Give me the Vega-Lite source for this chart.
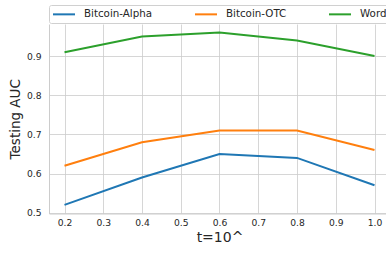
{
  "$schema": "https://vega.github.io/schema/vega-lite/v6.json",
  "width": 341,
  "height": 189.5,
  "autosize": "none",
  "padding": {"left": 49, "top": 24, "right": 0, "bottom": 40},
  "background": "white",
  "config": {
    "font": "DejaVu Sans",
    "view": {"stroke": null},
    "axis": {
      "grid": true,
      "gridColor": "#cccccc",
      "gridWidth": 0.8,
      "domainColor": "#cccccc",
      "domainWidth": 1,
      "ticks": false,
      "labelFont": "DejaVu Sans",
      "labelFontSize": 9.2,
      "labelColor": "#262626",
      "titleFont": "DejaVu Sans",
      "titleFontSize": 14,
      "titleFontWeight": "normal",
      "titleColor": "#262626"
    }
  },
  "data": {
    "values": [
      {"t": 0.2, "auc": 0.52, "series": "Bitcoin-Alpha"},
      {"t": 0.4, "auc": 0.59, "series": "Bitcoin-Alpha"},
      {"t": 0.6, "auc": 0.65, "series": "Bitcoin-Alpha"},
      {"t": 0.8, "auc": 0.64, "series": "Bitcoin-Alpha"},
      {"t": 1.0, "auc": 0.57, "series": "Bitcoin-Alpha"},
      {"t": 0.2, "auc": 0.62, "series": "Bitcoin-OTC"},
      {"t": 0.4, "auc": 0.68, "series": "Bitcoin-OTC"},
      {"t": 0.6, "auc": 0.71, "series": "Bitcoin-OTC"},
      {"t": 0.8, "auc": 0.71, "series": "Bitcoin-OTC"},
      {"t": 1.0, "auc": 0.66, "series": "Bitcoin-OTC"},
      {"t": 0.2, "auc": 0.91, "series": "WordNet"},
      {"t": 0.4, "auc": 0.95, "series": "WordNet"},
      {"t": 0.6, "auc": 0.96, "series": "WordNet"},
      {"t": 0.8, "auc": 0.94, "series": "WordNet"},
      {"t": 1.0, "auc": 0.90, "series": "WordNet"}
    ]
  },
  "mark": {"type": "line", "strokeWidth": 2, "clip": true},
  "encoding": {
    "x": {
      "field": "t", "type": "quantitative",
      "scale": {"domain": [0.16, 1.04], "nice": false, "zero": false},
      "axis": {"values": [0.2, 0.3, 0.4, 0.5, 0.6, 0.7, 0.8, 0.9, 1.0], "format": ".1f", "title": "t=10^", "labelPadding": 5, "titlePadding": 3, "labelFlush": false}
    },
    "y": {
      "field": "auc", "type": "quantitative",
      "scale": {"domain": [0.498, 0.982], "nice": false, "zero": false},
      "axis": {"values": [0.5, 0.6, 0.7, 0.8, 0.9], "format": ".1f", "title": "Testing AUC", "titleFontSize": 13.5, "labelPadding": 8, "titlePadding": 4, "labelFlush": false}
    },
    "color": {
      "field": "series", "type": "nominal",
      "scale": {"domain": ["Bitcoin-Alpha", "Bitcoin-OTC", "WordNet"], "range": ["#1f77b4", "#ff7f0e", "#2ca02c"]},
      "legend": {
        "title": null,
        "orient": "none",
        "legendX": 0,
        "legendY": -19,
        "direction": "horizontal",
        "columns": 3,
        "gridAlign": "each",
        "symbolType": "M-2.2,0H2.2",
        "symbolSize": 100,
        "symbolStrokeWidth": 2,
        "symbolOffset": 6,
        "labelFont": "DejaVu Sans",
        "labelFontSize": 10.3,
        "labelColor": "#262626",
        "labelOffset": 14,
        "columnPadding": 38,
        "fillColor": "white",
        "strokeColor": "#d0d0d0",
        "cornerRadius": 2,
        "padding": 3,
        "offset": 0
      }
    }
  }
}
